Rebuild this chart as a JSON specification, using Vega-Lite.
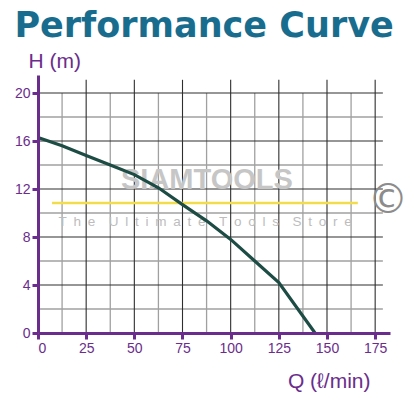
{
  "$schema": "https://vega.github.io/schema/vega-lite/v6.json",
  "width": 352,
  "height": 258,
  "autosize": {"type": "none"},
  "padding": {"left": 38, "top": 75, "right": 21, "bottom": 64},
  "background": "white",
  "title": {
    "text": "Performance Curve",
    "anchor": "start",
    "font": "DejaVu Sans",
    "fontSize": 35,
    "fontWeight": "bold",
    "color": "#186d8e",
    "dx": 0,
    "dy": 14,
    "offset": 20
  },
  "config": {"view": {"stroke": null}},
  "datasets": {
    "curve": [
      {"Q": 0, "H": 16.3},
      {"Q": 12.5, "H": 15.6},
      {"Q": 25, "H": 14.8},
      {"Q": 37.5, "H": 14.0},
      {"Q": 50, "H": 13.2},
      {"Q": 62.5, "H": 12.1},
      {"Q": 75, "H": 10.7},
      {"Q": 87.5, "H": 9.35},
      {"Q": 100, "H": 7.8},
      {"Q": 112.5, "H": 6.0},
      {"Q": 125, "H": 4.2},
      {"Q": 143.8, "H": 0}
    ],
    "vminor": [{"q": 12.5}, {"q": 37.5}, {"q": 62.5}, {"q": 87.5}, {"q": 112.5}, {"q": 137.5}, {"q": 162.5}],
    "vmajor": [{"q": 25}, {"q": 50}, {"q": 75}, {"q": 100}, {"q": 125}, {"q": 150}, {"q": 175}],
    "hminor": [{"h": 2}, {"h": 6}, {"h": 10}, {"h": 14}, {"h": 18}],
    "hmajor": [{"h": 4}, {"h": 8}, {"h": 12}, {"h": 16}, {"h": 20}]
  },
  "layer": [
    {
      "data": {"name": "vminor"},
      "mark": {"type": "rule", "color": "#a0a0a0", "strokeWidth": 1.3},
      "encoding": {
        "x": {"field": "q", "type": "quantitative"},
        "y": {"datum": 0},
        "y2": {"datum": 20}
      }
    },
    {
      "data": {"name": "hminor"},
      "mark": {"type": "rule", "color": "#a0a0a0", "strokeWidth": 1.3},
      "encoding": {
        "y": {"field": "h", "type": "quantitative"},
        "x": {"datum": 0},
        "x2": {"datum": 179}
      }
    },
    {
      "data": {"name": "vmajor"},
      "mark": {"type": "rule", "color": "#2e2e2e", "strokeWidth": 1.1},
      "encoding": {
        "x": {"field": "q", "type": "quantitative"},
        "y": {"datum": 0},
        "y2": {"datum": 21.1}
      }
    },
    {
      "data": {"name": "hmajor"},
      "mark": {"type": "rule", "color": "#2e2e2e", "strokeWidth": 1.1},
      "encoding": {
        "y": {"field": "h", "type": "quantitative"},
        "x": {"datum": 0},
        "x2": {"datum": 179}
      }
    },
    {
      "data": {"values": [{"t": "SIAMTOOLS"}]},
      "mark": {"type": "text", "font": "Liberation Sans", "fontWeight": "bold", "fontSize": 29, "color": "#c6c6c6", "baseline": "middle", "align": "center"},
      "encoding": {"text": {"field": "t"}, "x": {"datum": 87.7}, "y": {"datum": 12.75}}
    },
    {
      "data": {"values": [{"t": "T\u2002h\u2002e\u2002\u2002U\u2002l\u2002t\u2002i\u2002m\u2002a\u2002t\u2002e\u2002\u2002T\u2002o\u2002o\u2002l\u2002s\u2002\u2002S\u2002t\u2002o\u2002r\u2002e"}]},
      "mark": {"type": "text", "font": "Liberation Sans", "fontSize": 13.5, "color": "#bdbdbd", "baseline": "middle", "align": "center"},
      "encoding": {"text": {"field": "t"}, "x": {"datum": 86.7}, "y": {"datum": 9.25}}
    },
    {
      "data": {"values": [{"t": "©"}]},
      "mark": {"type": "text", "font": "DejaVu Sans", "fontSize": 40, "color": "#8c8c8c", "baseline": "middle", "align": "center"},
      "encoding": {"text": {"field": "t"}, "x": {"datum": 181.7}, "y": {"datum": 11.0}}
    },
    {
      "data": {"values": [{"a": 1}]},
      "mark": {"type": "rule", "color": "#f2dc4a", "strokeWidth": 2.5},
      "encoding": {"x": {"datum": 7.3}, "x2": {"datum": 166}, "y": {"datum": 10.83}}
    },
    {
      "data": {"name": "curve"},
      "mark": {"type": "line", "color": "#1d4c45", "strokeWidth": 3.2},
      "encoding": {
        "x": {
          "field": "Q", "type": "quantitative",
          "scale": {"domain": [0, 182.7], "nice": false, "zero": false},
          "axis": {
            "values": [0, 25, 50, 75, 100, 125, 150, 175],
            "grid": false,
            "zindex": 2,
            "domainColor": "#6b2d8c", "domainWidth": 3,
            "tickColor": "#6b2d8c", "tickWidth": 3, "tickSize": 6,
            "labelColor": "#6b2d8c", "labelFont": "Liberation Sans", "labelFontSize": 14, "labelPadding": 2,
            "title": "Q (ℓ/min)", "titleColor": "#6b2d8c", "titleFont": "Liberation Sans", "titleFontSize": 21, "titleFontWeight": "normal",
            "titleAlign": "right", "titleBaseline": "alphabetic", "titleX": 332, "titleY": 54
          }
        },
        "y": {
          "field": "H", "type": "quantitative",
          "scale": {"domain": [0, 21.5], "nice": false, "zero": false},
          "axis": {
            "values": [0, 4, 8, 12, 16, 20],
            "grid": false,
            "zindex": 2,
            "domainColor": "#6b2d8c", "domainWidth": 3,
            "tickColor": "#6b2d8c", "tickWidth": 3, "tickSize": 6,
            "labelColor": "#6b2d8c", "labelFont": "Liberation Sans", "labelFontSize": 14, "labelPadding": 2,
            "title": "H (m)", "titleColor": "#6b2d8c", "titleFont": "Liberation Sans", "titleFontSize": 21, "titleFontWeight": "normal",
            "titleAngle": 0, "titleAlign": "left", "titleBaseline": "alphabetic", "titleX": -10, "titleY": -8
          }
        }
      }
    }
  ]
}
